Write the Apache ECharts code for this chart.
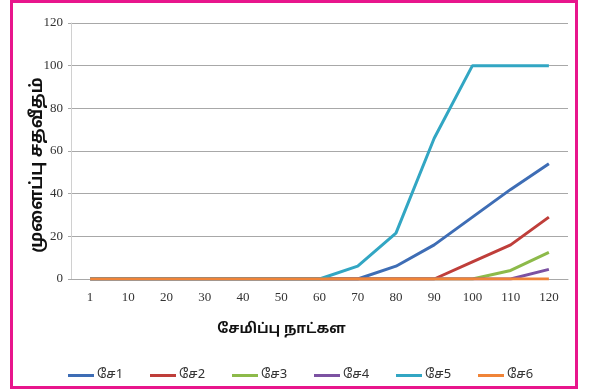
<!DOCTYPE html>
<html><head><meta charset="utf-8">
<script src="https://cdn.jsdelivr.net/npm/echarts@6/dist/echarts.min.js"></script>
<style>
html,body{margin:0;padding:0;background:#fff;}
#c{position:absolute;left:0;top:0;width:593px;height:389px;}
#b{position:absolute;left:10px;top:0;width:562px;height:383px;border:3px solid #E8168C;pointer-events:none;}
</style></head>
<body><div id="c"></div><div id="b"></div>
<script>
const categories = ['1','10','20','30','40','50','60','70','80','90','100','110','120'];
const seriesNames = ['சே1','சே2','சே3','சே4','சே5','சே6'];
const se1 = [0,0,0,0,0,0,0,0,6,16,29,42,54];
const se2 = [0,0,0,0,0,0,0,0,0,0,8,16,29];
const se3 = [0,0,0,0,0,0,0,0,0,0,0,4,12.5];
const se4 = [0,0,0,0,0,0,0,0,0,0,0,0,4.5];
const se5 = [0,0,0,0,0,0,0,6,21.5,66,100,100,100];
const se6 = [0,0,0,0,0,0,0,0,0,0,0,0,0];
const yTicks = {min:0,max:120,interval:20};
const colors = ['#3E6DB5','#BF3E3A','#8DBA4A','#7C52A2','#32A6C3','#F08438'];
const tamilFont = "'Noto Sans Tamil','Noto Sans','Lohit Tamil',sans-serif";
const data = [se1,se2,se3,se4,se5,se6];
const chart = echarts.init(document.getElementById('c'));
chart.setOption({
  animation:false,
  color:colors,
  grid:{left:71,right:25,top:23,bottom:110},
  legend:seriesNames.map((n,i)=>({
    data:[n], top:364, left:63+82*i, itemWidth:26, itemHeight:3, itemGap:0,
    icon:'rect', selectedMode:false,
    textStyle:{fontFamily:tamilFont,fontSize:13,color:'#333',padding:[0,0,0,-2]}
  })),
  xAxis:{
    type:'category', data:categories, boundaryGap:true,
    name:'சேமிப்பு நாட்கள', nameLocation:'middle', nameGap:44, nameMoveOverlap:false,
    nameTextStyle:{fontFamily:tamilFont,fontSize:14,fontWeight:'bold',color:'#111',padding:[0,76,0,0]},
    axisLine:{lineStyle:{color:'#a8a8a8'}},
    axisTick:{show:false},
    axisLabel:{fontFamily:"'Liberation Serif',serif",fontSize:13,color:'#333',margin:12}
  },
  yAxis:{
    type:'value', min:yTicks.min, max:yTicks.max, interval:yTicks.interval,
    name:'முளைப்பு சதவீதம்', nameLocation:'middle', nameGap:24, nameRotate:90, nameMoveOverlap:false,
    nameTextStyle:{fontFamily:tamilFont,fontSize:17,fontWeight:'bold',color:'#111',padding:[0,28,0,0]},
    axisLine:{show:true,lineStyle:{color:'#d0d0d0'}},
    axisTick:{show:true,length:3,lineStyle:{color:'#a8a8a8'}},
    splitLine:{lineStyle:{color:'#a8a8a8'}},
    axisLabel:{fontFamily:"'Liberation Serif',serif",fontSize:13,color:'#333',margin:8}
  },
  series:data.map((d,i)=>({
    name:seriesNames[i], type:'line', data:d, symbol:'none',
    lineStyle:{width:3,color:colors[i]}, itemStyle:{color:colors[i]}
  }))
});
</script></body></html>
